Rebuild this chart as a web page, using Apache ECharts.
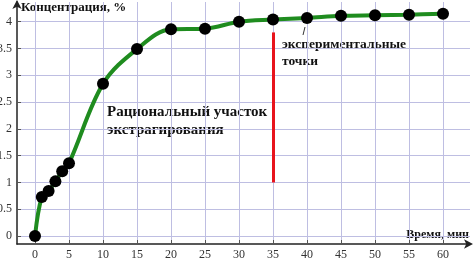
<!DOCTYPE html>
<html><head><meta charset="utf-8">
<script src="https://cdn.jsdelivr.net/npm/echarts@6/dist/echarts.min.js"></script>
<style>html,body{margin:0;padding:0;background:#fff}#c{width:473px;height:260px}</style>
</head><body><div id="c"></div>
<script>
var timeMin = [0, 1, 2, 3, 4, 5, 10, 15, 20, 25, 30, 35, 40, 45, 50, 55, 60];
var concentration = [0, 0.73, 0.84, 1.02, 1.21, 1.36, 2.84, 3.49, 3.86, 3.87, 4.0, 4.04, 4.07, 4.11, 4.12, 4.13, 4.15];
var xTicks = [0, 5, 10, 15, 20, 25, 30, 35, 40, 45, 50, 55, 60];
var yTicks = [0, 0.5, 1, 1.5, 2, 2.5, 3, 3.5, 4];
var redLineX = 35;
var redLineY = [1, 3.8];

var FONT = '"Liberation Serif", "Times New Roman", serif';
var X_MIN = -2.647, X_MAX = 63.97, Y_MIN = -0.149, Y_MAX = 4.368;
var chart = echarts.init(document.getElementById('c'));
var gridColor = '#bebee2';

chart.setOption({
  animation: false,
  grid: { left: 17, right: 3, top: 2, bottom: 16, containLabel: false, outerBoundsMode: 'none' },
  xAxis: {
    type: 'value', min: X_MIN, max: X_MAX,
    axisLine: { show: true, onZero: false, symbol: ['none', 'arrow'], symbolSize: [7, 9], symbolOffset: [0, 3], lineStyle: { color: '#222', width: 1.5 } },
    axisTick: { show: true, inside: true, length: 4, customValues: xTicks, lineStyle: { color: '#555' } },
    axisLabel: { customValues: xTicks, margin: 5, fontFamily: FONT, fontSize: 12, color: '#333' },
    splitLine: { show: true, customValues: xTicks, lineStyle: { color: gridColor, width: 1 } }
  },
  yAxis: {
    type: 'value', min: Y_MIN, max: Y_MAX,
    axisLine: { show: true, onZero: false, symbol: ['none', 'arrow'], symbolSize: [7, 9], symbolOffset: [0, 2], lineStyle: { color: '#222', width: 1.5 } },
    axisTick: { show: true, inside: true, length: 4, customValues: yTicks, lineStyle: { color: '#555' } },
    axisLabel: { customValues: yTicks, margin: 5, fontFamily: FONT, fontSize: 12, color: '#333' },
    splitLine: { show: true, customValues: yTicks, lineStyle: { color: gridColor, width: 1 } }
  },
  series: [
    {
      type: 'line',
      data: timeMin.map(function (t, i) { return [t, concentration[i]]; }),
      smooth: 0.35,
      symbol: 'circle', symbolSize: 12,
      itemStyle: { color: '#000' },
      lineStyle: { color: '#1f8c1f', width: 4 },
      z: 5
    },
    {
      type: 'line',
      data: [],
      z: 4,
      markLine: {
        silent: true, symbol: 'none', label: { show: false },
        lineStyle: { color: '#e8141c', width: 3, type: 'solid' },
        data: [[{ coord: [redLineX, redLineY[0]] }, { coord: [redLineX, redLineY[1]] }]]
      }
    }
  ],
  graphic: [
    { type: 'text', x: 21, y: 1, style: { text: 'Концентрация, %', fontFamily: FONT, fontWeight: 'bold', fontSize: 13, fill: '#111' } },
    { type: 'text', x: 469, y: 229, style: { text: 'Время, мин', align: 'right', textAlign: 'right', fontFamily: FONT, fontWeight: 'bold', fontSize: 12, fill: '#111' } },
    { type: 'text', x: 107, y: 103, style: { text: 'Рациональный участок\nэкстрагирования', fontFamily: FONT, fontWeight: 'bold', fontSize: 15, lineHeight: 18, fill: '#111' } },
    { type: 'text', x: 282, y: 36, style: { text: 'экспериментальные\nточки', fontFamily: FONT, fontWeight: 'bold', fontSize: 13.5, lineHeight: 17, fill: '#111' } },
    { type: 'line', shape: { x1: 303, y1: 35, x2: 305, y2: 27 }, style: { stroke: '#333', lineWidth: 1 } }
  ]
});
</script></body></html>
